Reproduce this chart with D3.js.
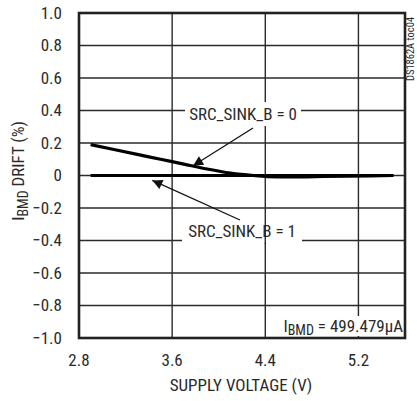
<!DOCTYPE html>
<html><head><meta charset="utf-8">
<script src="https://cdn.jsdelivr.net/npm/d3@7"></script>
<style>
html,body{margin:0;padding:0;background:#fff;}
text{font-family:"Liberation Sans Narrow","Roboto Condensed","Liberation Sans",sans-serif;fill:#2a2a2a;}
</style></head><body>
<svg id="c" width="417" height="401"></svg>
<script>
const voltsB0 = [2.9, 3.1, 3.3, 3.5, 3.7, 3.9, 4.1, 4.3, 4.5, 4.7, 4.9, 5.1, 5.3, 5.5];
const driftB0 = [0.19, 0.16, 0.13, 0.10, 0.07, 0.04, 0.015, 0.0, -0.008, -0.008, -0.006, -0.004, -0.002, 0.0];
const voltsB1 = [2.9, 3.5, 4.1, 4.7, 5.5];
const driftB1 = [0, 0, 0, 0, 0];
const xTicks = [2.8, 3.6, 4.4, 5.2];
const yTicks = [-1.0, -0.8, -0.6, -0.4, -0.2, 0, 0.2, 0.4, 0.6, 0.8, 1.0];

const svg = d3.select("#c");
const L = 79, R = 405, T = 13, B = 338;
const FS = 17;
const x = d3.scaleLinear().domain([2.8, 5.6]).range([L, R]);
const y = d3.scaleLinear().domain([-1, 1]).range([B, T]);

const defs = svg.append("defs");
defs.append("marker").attr("id","ah").attr("viewBox","0 0 10 10").attr("refX",10).attr("refY",5)
  .attr("markerWidth",14).attr("markerHeight",10).attr("markerUnits","userSpaceOnUse").attr("orient","auto")
  .append("path").attr("d","M0,0 L10,5 L0,10 Z").attr("fill","#111");

// grid
const g = svg.append("g");
g.selectAll("line.h").data(yTicks.slice(1,-1)).join("line")
  .attr("x1",L).attr("x2",R).attr("y1",d=>y(d)).attr("y2",d=>y(d))
  .attr("stroke","#2a2a2a").attr("stroke-width",1.4);
g.selectAll("line.v").data([3.6,4.4,5.2]).join("line")
  .attr("y1",T).attr("y2",B).attr("x1",d=>x(d)).attr("x2",d=>x(d))
  .attr("stroke","#2a2a2a").attr("stroke-width",1.4);

// y tick labels
svg.append("g").selectAll("text").data(yTicks).join("text")
  .attr("x",62).attr("y",d=>y(d)).attr("dy","0.35em").attr("text-anchor","end")
  .attr("font-size",FS).text(d=>d===0?"0":d3.format(".1f")(d));
// x tick labels
svg.append("g").selectAll("text").data(xTicks).join("text")
  .attr("x",d=>x(d)).attr("y",360).attr("dy","0.35em").attr("text-anchor","middle")
  .attr("font-size",FS).text(d=>d3.format(".1f")(d));

// axis titles
svg.append("text").attr("x",241).attr("y",385).attr("dy","0.35em").attr("text-anchor","middle")
  .attr("font-size",FS).text("SUPPLY VOLTAGE (V)");
const yl = svg.append("text").attr("transform","translate(18,171) rotate(-90)").attr("text-anchor","middle")
  .attr("font-size",FS).attr("dy","0.35em");
yl.append("tspan").text("I");
yl.append("tspan").attr("font-size",14).attr("dy","4").text("BMD");
yl.append("tspan").attr("dy","-4").text(" DRIFT (%)");

// watermark
svg.append("text").attr("transform","translate(410,49) rotate(-90)").attr("text-anchor","middle")
  .attr("dy","0.35em").attr("font-size",10.5).text("DS1862A toc04");

// labels with white boxes
function boxLabel(cx, cy, w, h){
  svg.append("rect").attr("x",cx-w/2).attr("y",cy-h/2).attr("width",w).attr("height",h).attr("fill","#fff");
}
boxLabel(243, 114, 116, 24);
svg.append("text").attr("x",243).attr("y",114).attr("dy","0.35em").attr("text-anchor","middle")
  .attr("font-size",FS).text("SRC_SINK_B = 0");
boxLabel(242, 233, 120, 20);
svg.append("line").attr("x1",x(4.4)).attr("x2",x(4.4)).attr("y1",223).attr("y2",244).attr("stroke","#2a2a2a").attr("stroke-width",1.4);
svg.append("text").attr("x",242).attr("y",231).attr("dy","0.35em").attr("text-anchor","middle")
  .attr("font-size",FS).text("SRC_SINK_B = 1");

boxLabel(342, 326, 122, 20);
const il = svg.append("text").attr("x",403).attr("y",332).attr("text-anchor","end").attr("font-size",FS);
il.append("tspan").text("I");
il.append("tspan").attr("font-size",14).attr("dy","3").text("BMD");
il.append("tspan").attr("dy","-3").text(" = 499.479µA");

// curves
const line = d3.line().x(d=>x(d[0])).y(d=>y(d[1])).curve(d3.curveMonotoneX);
svg.append("path").datum(voltsB1.map((v,i)=>[v,driftB1[i]])).attr("d",line)
  .attr("fill","none").attr("stroke","#000").attr("stroke-width",3);
svg.append("path").datum(voltsB0.map((v,i)=>[v,driftB0[i]])).attr("d",line)
  .attr("fill","none").attr("stroke","#000").attr("stroke-width",3.2);

// arrows
svg.append("line").attr("x1",253).attr("y1",128).attr("x2",x(3.78)).attr("y2",y(0.06))
  .attr("stroke","#111").attr("stroke-width",1.3).attr("marker-end","url(#ah)");
svg.append("line").attr("x1",240).attr("y1",220).attr("x2",x(3.43)).attr("y2",y(-0.03))
  .attr("stroke","#111").attr("stroke-width",1.3).attr("marker-end","url(#ah)");

// frame
svg.append("rect").attr("x",L).attr("y",T).attr("width",R-L).attr("height",B-T)
  .attr("fill","none").attr("stroke","#222").attr("stroke-width",2.6);
</script></body></html>
